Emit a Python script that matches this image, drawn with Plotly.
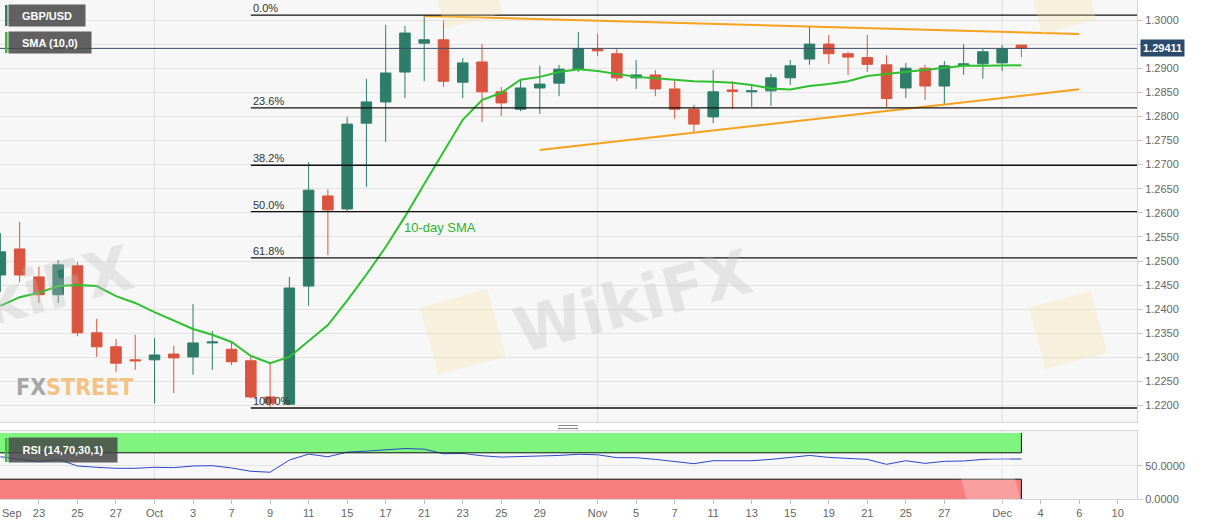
import math
import pandas as pd
import plotly.graph_objects as go

# ---- values (GBP/USD daily, autumn 2019) ----
dates = pd.bdate_range("2019-09-19", "2019-12-10").strftime("%Y-%m-%d").tolist()

opens = [1.2471, 1.2525, 1.2467, 1.2430, 1.2490, 1.2351, 1.2322, 1.2295, 1.2295, 1.2307,
         1.2301, 1.2330, 1.2317, 1.2293, 1.2218, 1.2203, 1.2448, 1.2635, 1.2608, 1.2786,
         1.2830, 1.2892, 1.2952, 1.2959, 1.2871, 1.2913, 1.2851, 1.2815, 1.2859, 1.2869,
         1.2898, 1.2940, 1.2930, 1.2880, 1.2886, 1.2857, 1.2815, 1.2799, 1.2855, 1.2851,
         1.2853, 1.2880, 1.2919, 1.2950, 1.2930, 1.2922, 1.2907, 1.2859, 1.2900, 1.2863,
         1.2906, 1.2909, 1.2911, 1.2948]
highs = [1.2558, 1.2581, 1.2488, 1.2502, 1.2498, 1.2380, 1.2338, 1.2347, 1.2340, 1.2324,
         1.2411, 1.2355, 1.2332, 1.2303, 1.2288, 1.2467, 1.2705, 1.2649, 1.2799, 1.2878,
         1.2990, 1.2988, 1.3010, 1.3000, 1.2921, 1.2950, 1.2861, 1.2876, 1.2905, 1.2907,
         1.2975, 1.2971, 1.2940, 1.2917, 1.2896, 1.2876, 1.2824, 1.2896, 1.2873, 1.2863,
         1.2888, 1.2917, 1.2986, 1.2969, 1.2934, 1.2969, 1.2927, 1.2911, 1.2907, 1.2915,
         1.2950, 1.2940, 1.2948, 1.2948]
lows = [1.2436, 1.2456, 1.2413, 1.2413, 1.2344, 1.2301, 1.2270, 1.2274, 1.2205, 1.2226,
        1.2264, 1.2274, 1.2284, 1.2215, 1.2197, 1.2203, 1.2407, 1.2512, 1.2602, 1.2654,
        1.2747, 1.2838, 1.2873, 1.2861, 1.2838, 1.2788, 1.2801, 1.2811, 1.2805, 1.2842,
        1.2892, 1.2925, 1.2873, 1.2857, 1.2842, 1.2795, 1.2768, 1.2786, 1.2815, 1.2820,
        1.2822, 1.2865, 1.2907, 1.2909, 1.2886, 1.2892, 1.2820, 1.2838, 1.2834, 1.2826,
        1.2886, 1.2878, 1.2894, 1.2923]
closes = [1.2519, 1.2471, 1.2430, 1.2492, 1.2351, 1.2322, 1.2288, 1.2293, 1.2305, 1.2299,
          1.2330, 1.2332, 1.2291, 1.2218, 1.2205, 1.2444, 1.2647, 1.2606, 1.2784, 1.2830,
          1.2890, 1.2973, 1.2959, 1.2873, 1.2911, 1.2851, 1.2828, 1.2859, 1.2867, 1.2898,
          1.2941, 1.2936, 1.2880, 1.2886, 1.2857, 1.2815, 1.2784, 1.2851, 1.2852, 1.2853,
          1.2880, 1.2905, 1.2950, 1.2930, 1.2923, 1.2908, 1.2837, 1.2900, 1.2863, 1.2905,
          1.2909, 1.2934, 1.2940, 1.29411]
sma10 = [1.2407, 1.2425, 1.2434, 1.2448, 1.2450, 1.2448, 1.2427, 1.2413, 1.2394, 1.2376,
         1.2359, 1.2347, 1.2332, 1.2303, 1.2288, 1.2301, 1.2334, 1.2367, 1.2418, 1.2472,
         1.2529, 1.2592, 1.2660, 1.2726, 1.2793, 1.2834, 1.2849, 1.2876, 1.2882, 1.2892,
         1.2898, 1.2894, 1.2888, 1.2882, 1.2879, 1.2876, 1.2873, 1.2872, 1.2870, 1.2865,
         1.2858, 1.2856, 1.2863, 1.2867, 1.2873, 1.2884, 1.2888, 1.2893, 1.2896, 1.2900,
         1.2905, 1.2905, 1.2906, 1.2906]
rsi14 = [64, 60, 56.5, 60, 50, 48, 46.5, 46.5, 48, 47.5,
         50, 50.5, 47, 42, 40.5, 59, 68, 64, 71, 72.5,
         74.5, 76.5, 75.5, 68.5, 69, 65.5, 63.5, 64, 64.5, 66,
         67.7, 67, 62.6, 62.6, 60, 56.5, 53.5, 58, 58, 58,
         60, 62.6, 66, 63, 61.6, 60, 52.5, 58, 54, 57,
         57.6, 60, 60.6, 60.5]

fib_high = 1.3010
fib_low = 1.2195
fib_ratios = [0.0, 0.236, 0.382, 0.5, 0.618, 1.0]
fib_start = "2019-10-08"

trend_upper_dates = ["2019-10-21", "2019-12-06"]
trend_upper_prices = [1.30083, 1.29710]
trend_lower_dates = ["2019-10-29", "2019-12-06"]
trend_lower_prices = [1.27303, 1.28562]

tick_dates = ["2019-09-23", "2019-09-25", "2019-09-27", "2019-10-01", "2019-10-03",
              "2019-10-07", "2019-10-09", "2019-10-11", "2019-10-15", "2019-10-17",
              "2019-10-21", "2019-10-23", "2019-10-25", "2019-10-29", "2019-11-01",
              "2019-11-05", "2019-11-07", "2019-11-11", "2019-11-13", "2019-11-15",
              "2019-11-19", "2019-11-21", "2019-11-25", "2019-11-27", "2019-12-02",
              "2019-12-04", "2019-12-06", "2019-12-10"]
tick_text = ["23", "25", "27", "Oct", "3", "7", "9", "11", "15", "17", "21", "23", "25",
             "29", "Nov", "5", "7", "11", "13", "15", "19", "21", "25", "27", "Dec",
             "4", "6", "10"]
month_dates = ["2019-10-01", "2019-11-01", "2019-12-02"]

# ---- styling ----
UP = "#2e7d69"
DOWN = "#d9553f"
SMA_GREEN = "#2ec02e"
ORANGE = "#f7a11c"
NAVY = "#2b4a6e"
FONT = "Liberation Sans, Arial, sans-serif"

W, H = 1207, 526
MR, MB = 70, 27
PW, PH = W - MR, H - MB


def px(x):
    return x / PW


def py(y):
    return (PH - y) / PH


pos = {d: i for i, d in enumerate(dates)}
bars = list(range(len(closes)))
XR = [-0.02, 59.0]
last_bar = bars[-1]

fig = go.Figure()

fig.add_trace(go.Candlestick(
    x=bars, open=opens, high=highs, low=lows, close=closes,
    increasing=dict(line=dict(color=UP, width=1), fillcolor=UP),
    decreasing=dict(line=dict(color=DOWN, width=1), fillcolor=DOWN),
    xaxis="x", yaxis="y", showlegend=False, hoverinfo="skip"
))

fig.add_trace(go.Scatter(
    x=bars, y=sma10, mode="lines", line=dict(color=SMA_GREEN, width=2),
    xaxis="x", yaxis="y", showlegend=False, hoverinfo="skip"
))

for tx, ty in [(trend_upper_dates, trend_upper_prices), (trend_lower_dates, trend_lower_prices)]:
    fig.add_trace(go.Scatter(
        x=[pos[d] for d in tx], y=ty, mode="lines", line=dict(color=ORANGE, width=2),
        xaxis="x", yaxis="y", showlegend=False, hoverinfo="skip"
    ))

fig.add_trace(go.Scatter(
    x=bars, y=rsi14, mode="lines", line=dict(color="#2a46c8", width=1),
    xaxis="x2", yaxis="y2", showlegend=False, hoverinfo="skip"
))

shapes = []
# month separators
for d in month_dates:
    for yr in ["y domain", "y2 domain"]:
        shapes.append(dict(type="line", xref="x", yref=yr, x0=pos[d], x1=pos[d], y0=0, y1=1,
                           line=dict(color="#dedede", width=1), layer="below"))

# fibonacci levels
fib_levels = [fib_high - r * (fib_high - fib_low) for r in fib_ratios]
for lv in fib_levels:
    shapes.append(dict(type="line", xref="x", yref="y", x0=pos[fib_start], x1=XR[1], y0=lv, y1=lv,
                       line=dict(color="#111111", width=1.3)))

# last price line
shapes.append(dict(type="line", xref="paper", yref="y", x0=0, x1=1, y0=closes[-1], y1=closes[-1],
                   line=dict(color="#3b4f6b", width=1)))

# RSI zones
shapes.append(dict(type="rect", xref="x", yref="y2", x0=XR[0], x1=last_bar, y0=70, y1=100,
                   fillcolor="#7ff57f", line=dict(width=0), layer="below"))
shapes.append(dict(type="rect", xref="x", yref="y2", x0=XR[0], x1=last_bar, y0=0, y1=30,
                   fillcolor="#f87f7f", line=dict(width=0), layer="below"))
shapes.append(dict(type="path", xref="x", yref="y2",
                   path=f"M {XR[0]},70 L {last_bar},70 L {last_bar},100",
                   line=dict(color="#111111", width=1)))
shapes.append(dict(type="path", xref="x", yref="y2",
                   path=f"M {XR[0]},30 L {last_bar},30 L {last_bar},0",
                   line=dict(color="#111111", width=1)))

# panel splitter handle
for yy in [425.5, 428.5]:
    shapes.append(dict(type="line", xref="paper", yref="paper", x0=px(558), x1=px(578),
                       y0=py(yy), y1=py(yy), line=dict(color="#8a8a8a", width=1)))

# legend stripes
for (y0, y1, c) in [(5, 26, UP), (32, 53, SMA_GREEN), (438, 462, SMA_GREEN)]:
    shapes.append(dict(type="rect", xref="paper", yref="paper", x0=px(5), x1=px(7.5),
                       y0=py(y1), y1=py(y0), fillcolor=c, line=dict(width=0)))


# faint watermark logos (rotated rounded squares)
def logo(cx, cy, size, ang=-15, color="rgba(250,225,160,0.3)"):
    a = math.radians(ang)
    pts = []
    for dx, dy in [(-1, -1), (1, -1), (1, 1), (-1, 1)]:
        x = cx + (dx * math.cos(a) - dy * math.sin(a)) * size / 2
        y = cy + (dx * math.sin(a) + dy * math.cos(a)) * size / 2
        pts.append(f"{px(x):.4f},{py(y):.4f}")
    return dict(type="path", xref="paper", yref="paper", path="M " + " L ".join(pts) + " Z",
                fillcolor=color, line=dict(width=0), layer="above")


shapes.append(logo(463, 332, 70))
shapes.append(logo(1068, 330, 64))
shapes.append(logo(1062, 0, 56))
shapes.append(logo(466, -8, 60))
shapes.append(logo(990, 486, 52, color="rgba(255,255,255,0.25)"))

annotations = []
for r, lv in zip(fib_ratios, fib_levels):
    annotations.append(dict(x=pos[fib_start], y=lv, xref="x", yref="y", xanchor="left",
                            yanchor="bottom", text=f"{r * 100:.1f}%", showarrow=False,
                            font=dict(size=11, color="#333333", family=FONT), yshift=-1))

annotations.append(dict(x=22.8, y=1.25685, xref="x", yref="y", text="10-day SMA",
                        showarrow=False, font=dict(size=13, color="#2db52d", family=FONT)))

annotations.append(dict(x=1, y=closes[-1], xref="paper", yref="y", xanchor="left",
                        yanchor="middle", xshift=3, text=f"<b>{closes[-1]:.5f}</b>",
                        showarrow=False, bgcolor=NAVY, borderpad=2,
                        font=dict(size=11, color="white", family=FONT)))

for txt, y0, y1, wbox in [("GBP/USD", 5, 26, 76), ("SMA (10,0)", 32, 53, 82),
                          ("RSI (14,70,30,1)", 438, 462, 108)]:
    annotations.append(dict(x=px(7.5), y=py((y0 + y1) / 2), xref="paper", yref="paper",
                            xanchor="left", yanchor="middle", text=f"<b>{txt}</b>",
                            showarrow=False, width=wbox, height=y1 - y0, align="center",
                            bgcolor="rgba(70,70,70,0.85)", borderpad=0,
                            font=dict(size=11, color="white", family=FONT)))

annotations.append(dict(x=0, y=py(513), xref="paper", yref="paper", xanchor="left",
                        yanchor="middle", text="Sep", showarrow=False,
                        font=dict(size=11, color="#666666", family=FONT)))

annotations.append(dict(x=px(14), y=py(387), xref="paper", yref="paper", xanchor="left",
                        yanchor="middle",
                        text="<b><span style='color:#a6a6a6'>FX</span>"
                             "<span style='color:#f3c285'>STREET</span></b>",
                        showarrow=False,
                        font=dict(size=23, family="DejaVu Sans Condensed, DejaVu Sans, sans-serif")))

for cx, cy in [(633, 302), (14, 298)]:
    annotations.append(dict(x=px(cx), y=py(cy), xref="paper", yref="paper", xanchor="center",
                            yanchor="middle", text="<b>WikiFX</b>", showarrow=False,
                            textangle=-15,
                            font=dict(size=62, color="rgba(190,190,190,0.32)",
                                      family="DejaVu Sans, sans-serif")))

fig.update_layout(
    width=W, height=H,
    margin=dict(l=0, r=MR, t=0, b=MB),
    paper_bgcolor="white",
    plot_bgcolor="#f7f7f7",
    boxgap=0.22,
    showlegend=False,
    font=dict(family=FONT, size=11, color="#666666"),
    xaxis=dict(domain=[0, 1], anchor="y", range=XR, showticklabels=False, showgrid=False,
               zeroline=False, rangeslider=dict(visible=False), showline=True,
               linecolor="#d4d4d4", mirror=True),
    yaxis=dict(domain=[py(422), 1], anchor="x", range=[1.2166, 1.30415], side="right",
               tick0=1.2, dtick=0.005, tickformat=".4f", showgrid=True, gridcolor="#e3e3e3",
               ticks="outside", ticklen=5, tickcolor="#c8c8c8", zeroline=False,
               showline=True, linecolor="#d4d4d4", mirror=True,
               tickfont=dict(size=11, color="#666666")),
    xaxis2=dict(domain=[0, 1], anchor="y2", matches="x", range=XR,
                tickmode="array", tickvals=[pos[d] for d in tick_dates], ticktext=tick_text,
                ticks="outside", ticklen=4, tickcolor="#bdbdbd", showgrid=False, zeroline=False,
                showline=True, linecolor="#d4d4d4", mirror=True,
                tickfont=dict(size=11, color="#666666")),
    yaxis2=dict(domain=[0, py(431)], anchor="x2", range=[0, 103], side="right",
                tickmode="array", tickvals=[0, 50], tickformat=".4f", showgrid=True,
                gridcolor="#e3e3e3", ticks="outside", ticklen=5, tickcolor="#c8c8c8",
                zeroline=False, showline=True, linecolor="#d4d4d4", mirror=True,
                tickfont=dict(size=11, color="#666666")),
    shapes=shapes,
    annotations=annotations,
)

fig.write_html("out.html", config={"displayModeBar": False},
               post_script="document.body.style.margin='0';")
